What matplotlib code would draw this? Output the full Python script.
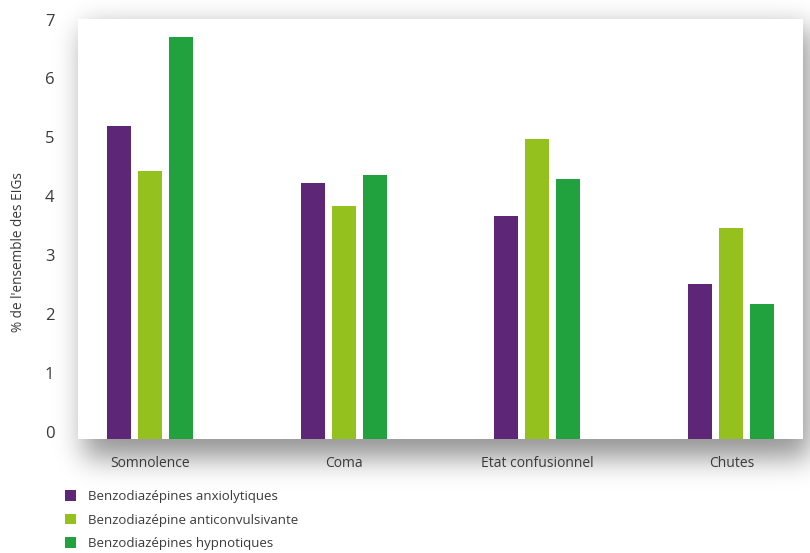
import matplotlib
matplotlib.use("Agg")
import matplotlib.pyplot as plt
import numpy as np

plt.rcParams['font.family'] = ['Open Sans', 'DejaVu Sans']

# donnees
categories = ['Somnolence', 'Coma', 'Etat confusionnel', 'Chutes']
series = ['Benzodiazépines anxiolytiques',
          'Benzodiazépine anticonvulsivante',
          'Benzodiazépines hypnotiques']
anxiolytiques = [5.2, 4.23, 3.67, 2.51]
anticonvulsivante = [4.43, 3.84, 4.97, 3.46]
hypnotiques = [6.7, 4.36, 4.3, 2.17]
yticks = [0, 1, 2, 3, 4, 5, 6, 7]

couleurs = ['#5E2677', '#95C11F', '#22A13F']
gris = '#3a3a3a'

W, H = 810, 553
fig = plt.figure(figsize=(W / 100, H / 100), dpi=100)
fig.patch.set_facecolor('white')

# ombre portee du panneau
def flou(a, s):
    r = int(3 * s)
    k = np.exp(-0.5 * (np.arange(-r, r + 1) / s) ** 2)
    k /= k.sum()
    a = np.apply_along_axis(lambda v: np.convolve(v, k, mode='same'), 0, a)
    a = np.apply_along_axis(lambda v: np.convolve(v, k, mode='same'), 1, a)
    return a

masque = np.zeros((H, W))
masque[28:458, 84:816] = 1
ombre = 1 - 0.42 * flou(masque, 14)
fig.figimage(ombre, cmap='gray', vmin=0, vmax=1, origin='upper', zorder=-5)

x0, x1, y0, y1 = 78, 803, 19, 439
ax = fig.add_axes([x0 / W, 1 - y1 / H, (x1 - x0) / W, (y1 - y0) / H])
ax.set_zorder(2)
ax.set_facecolor('white')

ymin, ymax = -0.12, 7.01
x = np.arange(len(categories))
larg = 0.124
pas = 0.16
for i, (vals, c, nom) in enumerate(zip([anxiolytiques, anticonvulsivante, hypnotiques], couleurs, series)):
    v = np.array(vals)
    ax.bar(x + (i - 1) * pas, v - ymin, bottom=ymin, width=larg, color=c, label=nom)

ax.set_xlim(-0.37, 3.37)
ax.set_ylim(ymin, ymax)
ax.set_xticks(x)
ax.set_xticklabels(categories, fontsize=10, color=gris)
ax.set_yticks(yticks)
ax.set_yticklabels([str(t) for t in yticks], fontsize=12, color=gris)
ax.tick_params(axis='y', length=0, pad=17)
ax.tick_params(axis='x', length=0, pad=12)
for s in ax.spines.values():
    s.set_visible(False)

fig.text(19 / W, 1 - 252 / H, "% de l'ensemble des EIGs", rotation=90,
         ha='center', va='center', fontsize=9.8, color=gris)

leg = ax.legend(loc='upper left', bbox_to_anchor=(60 / W, 1 - 485 / H),
                bbox_transform=fig.transFigure, frameon=False, fontsize=9.5,
                handlelength=0.85, handleheight=0.85, handletextpad=0.9,
                labelspacing=0.78, borderaxespad=0)
for t in leg.get_texts():
    t.set_color(gris)

fig.savefig('out.png', dpi=100, facecolor='white')
